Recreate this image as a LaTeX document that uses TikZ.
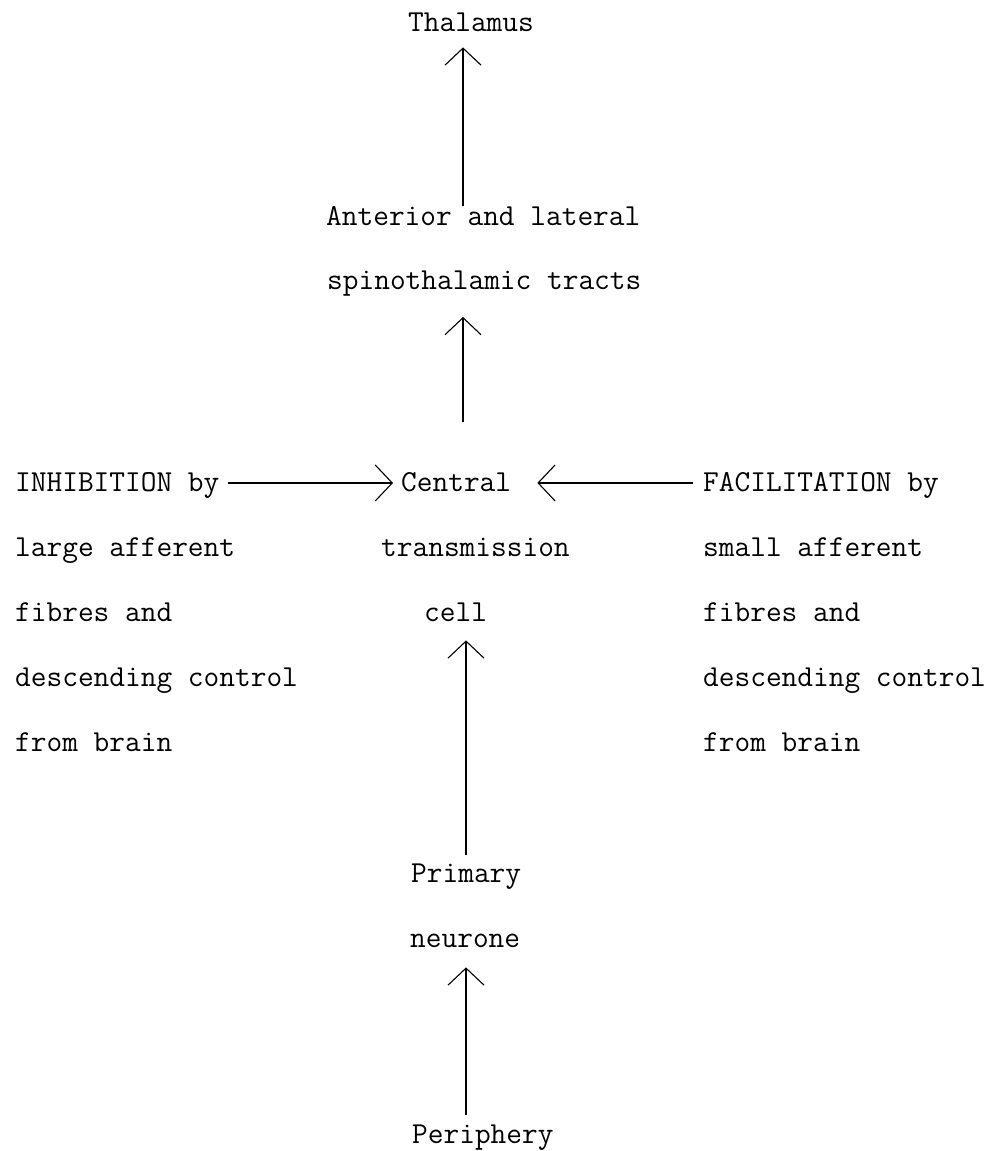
\documentclass[tikz,border=0pt]{standalone}
\usepackage{fontspec}
\usetikzlibrary{arrows.meta}

\begin{document}
\begin{tikzpicture}[x=1pt,y=-1pt,
  txt/.style={inner sep=0pt, anchor=base west, font=\ttfamily\fontsize{30.5}{30.5}\selectfont},
  arr/.style={line width=1.1pt, -{Straight Barb[length=17pt,width=36pt,line width=1.1pt]}}]
  \useasboundingbox (0,0) rectangle (1001,1151);

  % vertical axes of the upward arrows
  \coordinate (upper) at (463,0);
  \coordinate (lower) at (466,0);

  % central column
  \node[txt] (thal)    at (408,31)   {Thalamus};
  \node[txt] (ant)     at (326,225)  {Anterior and lateral};
  \node[txt] (spino)   at (327,289)  {spinothalamic tracts};
  \node[txt] (central) at (401,491)  {Central};
  \node[txt] (trans)   at (381,556)  {transmission};
  \node[txt] (cell)    at (424,621)  {cell};
  \node[txt] (prim)    at (411,882)  {Primary};
  \node[txt] (neur)    at (410,947)  {neurone};
  \node[txt] (peri)    at (412,1143) {Periphery};

  % left column
  \node[txt] (inhib) at (15,491) {INHIBITION by};
  \node[txt] (inh2)  at (15,556) {large afferent};
  \node[txt] (inh3)  at (15,621) {fibres and};
  \node[txt] (inh4)  at (15,686) {descending control};
  \node[txt] (inh5)  at (15,751) {from brain};

  % right column
  \node[txt] (facil) at (703,491) {FACILITATION by};
  \node[txt] (fac2)  at (703,556) {small afferent};
  \node[txt] (fac3)  at (703,621) {fibres and};
  \node[txt] (fac4)  at (703,686) {descending control};
  \node[txt] (fac5)  at (703,751) {from brain};

  % upward pathway
  \draw[arr] (ant.north -| upper) -- ([yshift=-16pt]thal.south -| upper);
  \draw[arr] ([yshift=50pt]central.north -| upper) -- ([yshift=-21pt]spino.south -| upper);
  \draw[arr] ([yshift=8pt]prim.north -| lower) -- ([yshift=-19pt]cell.south -| lower);
  \draw[arr] ([yshift=9pt]peri.north -| lower) -- ([yshift=-20pt]neur.south -| lower);

  % modulating inputs
  \draw[arr] ([xshift=8pt,yshift=2pt]inhib.east) -- ([xshift=-8pt,yshift=2pt]central.west |- inhib.east);
  \draw[arr] ([xshift=-10pt,yshift=2pt]facil.west) -- ([xshift=26pt,yshift=2pt]central.east |- facil.west);
\end{tikzpicture}
\end{document}
